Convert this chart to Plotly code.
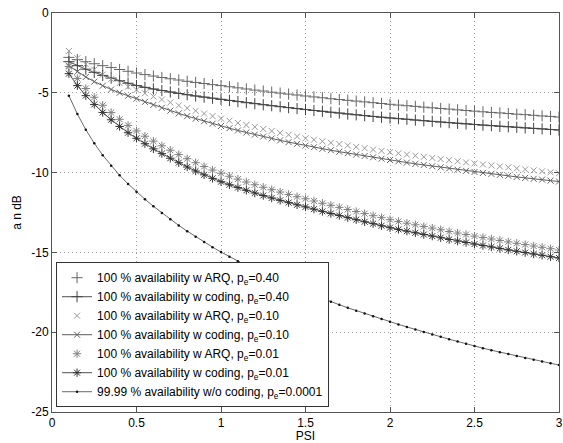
import plotly.graph_objects as go

psi = [round(0.1 + 0.05 * i, 2) for i in range(59)]

arq_040 = [-2.78, -2.92, -3.05, -3.18, -3.30, -3.42, -3.54, -3.65, -3.76,
           -3.86, -3.95, -4.04, -4.12, -4.20, -4.28, -4.35, -4.42, -4.49, -4.55,
           -4.62, -4.69, -4.76, -4.83, -4.89, -4.96, -5.02, -5.08, -5.14, -5.20,
           -5.26, -5.31, -5.37, -5.42, -5.47, -5.52, -5.57, -5.62, -5.67, -5.72,
           -5.77, -5.81, -5.85, -5.90, -5.94, -5.98, -6.02, -6.07, -6.11, -6.15,
           -6.19, -6.23, -6.26, -6.30, -6.34, -6.37, -6.41, -6.45, -6.48, -6.52]

cod_040 = [-3.05, -3.30, -3.52, -3.72, -3.91, -4.08, -4.24, -4.40, -4.55,
           -4.66, -4.76, -4.86, -4.95, -5.04, -5.12, -5.20, -5.27, -5.34, -5.41,
           -5.48, -5.55, -5.62, -5.68, -5.75, -5.81, -5.87, -5.93, -5.99, -6.05,
           -6.11, -6.16, -6.22, -6.27, -6.33, -6.38, -6.43, -6.48, -6.53, -6.58,
           -6.62, -6.66, -6.71, -6.75, -6.79, -6.83, -6.87, -6.91, -6.95, -6.99,
           -7.03, -7.06, -7.10, -7.13, -7.16, -7.20, -7.23, -7.26, -7.30, -7.33]

arq_010 = [-2.38, -2.83, -3.21, -3.55, -3.86, -4.14, -4.39, -4.62, -4.82,
           -5.03, -5.23, -5.42, -5.61, -5.79, -5.96, -6.13, -6.30, -6.46, -6.61,
           -6.75, -6.89, -7.02, -7.14, -7.27, -7.39, -7.51, -7.63, -7.74, -7.85,
           -7.94, -8.04, -8.13, -8.21, -8.30, -8.39, -8.47, -8.56, -8.64, -8.72,
           -8.79, -8.87, -8.94, -9.01, -9.08, -9.15, -9.22, -9.29, -9.36, -9.42,
           -9.49, -9.55, -9.61, -9.67, -9.74, -9.80, -9.86, -9.92, -9.98, -10.04]

cod_010 = [-3.30, -3.68, -4.01, -4.30, -4.56, -4.79, -5.00, -5.19, -5.37,
           -5.57, -5.76, -5.94, -6.12, -6.29, -6.46, -6.62, -6.78, -6.94, -7.08,
           -7.22, -7.36, -7.49, -7.62, -7.74, -7.86, -7.98, -8.09, -8.20, -8.31,
           -8.41, -8.51, -8.60, -8.69, -8.78, -8.87, -8.96, -9.04, -9.13, -9.21,
           -9.29, -9.37, -9.45, -9.52, -9.60, -9.67, -9.74, -9.82, -9.89, -9.96,
           -10.02, -10.08, -10.14, -10.20, -10.27, -10.33, -10.39, -10.44, -10.50, -10.56]

arq_001 = [-3.35, -4.10, -4.73, -5.28, -5.78, -6.24, -6.66, -7.04, -7.39,
           -7.72, -8.03, -8.32, -8.60, -8.87, -9.13, -9.38, -9.62, -9.84, -10.04,
           -10.23, -10.41, -10.59, -10.76, -10.92, -11.07, -11.22, -11.37, -11.51, -11.64,
           -11.78, -11.92, -12.05, -12.18, -12.31, -12.44, -12.57, -12.70, -12.82, -12.95,
           -13.06, -13.17, -13.27, -13.38, -13.48, -13.58, -13.69, -13.79, -13.88, -13.98,
           -14.07, -14.16, -14.25, -14.34, -14.43, -14.51, -14.60, -14.68, -14.77, -14.85]

cod_001 = [-3.80, -4.55, -5.18, -5.73, -6.23, -6.69, -7.11, -7.50, -7.85,
           -8.19, -8.51, -8.81, -9.10, -9.38, -9.65, -9.90, -10.14, -10.36, -10.57,
           -10.76, -10.94, -11.11, -11.28, -11.44, -11.59, -11.74, -11.88, -12.02, -12.15,
           -12.29, -12.43, -12.56, -12.69, -12.82, -12.95, -13.08, -13.20, -13.33, -13.45,
           -13.56, -13.67, -13.77, -13.88, -13.98, -14.08, -14.19, -14.29, -14.38, -14.48,
           -14.57, -14.66, -14.75, -14.84, -14.93, -15.01, -15.10, -15.18, -15.27, -15.35]

nocod_00001 = [-5.18, -6.33, -7.31, -8.16, -8.91, -9.57, -10.17, -10.71, -11.20,
               -11.67, -12.11, -12.53, -12.93, -13.31, -13.67, -14.02, -14.35, -14.67, -14.98,
               -15.27, -15.55, -15.82, -16.08, -16.33, -16.58, -16.82, -17.05, -17.27, -17.48,
               -17.69, -17.89, -18.09, -18.28, -18.47, -18.65, -18.83, -19.00, -19.17, -19.34,
               -19.51, -19.67, -19.83, -19.98, -20.14, -20.29, -20.44, -20.58, -20.73, -20.87,
               -21.00, -21.13, -21.25, -21.37, -21.49, -21.61, -21.73, -21.84, -21.95, -22.06]

labels = [
    "100 % availability w ARQ, p<sub>e</sub>=0.40",
    "100 % availability w coding, p<sub>e</sub>=0.40",
    "100 % availability w ARQ, p<sub>e</sub>=0.10",
    "100 % availability w coding, p<sub>e</sub>=0.10",
    "100 % availability w ARQ, p<sub>e</sub>=0.01",
    "100 % availability w coding, p<sub>e</sub>=0.01",
    "99.99 % availability w/o coding, p<sub>e</sub>=0.0001",
]

FONT = "Liberation Sans, Arial, sans-serif"
fig = go.Figure()

def add(y, name, mode, symbol, size, mcolor, lcolor=None):
    kw = dict(x=psi, y=y, name=name, mode=mode,
              marker=dict(symbol=symbol, size=size, color=mcolor,
                          line=dict(width=1, color=mcolor)))
    if lcolor:
        kw["line"] = dict(color=lcolor, width=0.8)
    fig.add_trace(go.Scatter(**kw))

add(arq_040, labels[0], "markers", "cross-thin", 8, "#666666")
add(cod_040, labels[1], "lines+markers", "cross-thin", 8, "#444444", "#222222")
add(arq_010, labels[2], "markers", "x-thin", 6, "#999999")
add(cod_010, labels[3], "lines+markers", "x-thin", 6, "#666666", "#333333")
add(arq_001, labels[4], "markers", "asterisk", 7, "#808080")
add(cod_001, labels[5], "lines+markers", "asterisk", 7, "#333333", "#222222")
fig.add_trace(go.Scatter(x=psi, y=nocod_00001, name=labels[6], mode="lines+markers",
                         line=dict(color="#444444", width=0.8),
                         marker=dict(symbol="circle", size=2.5, color="#111111")))

axis_common = dict(showline=True, linecolor="#555555", linewidth=1, mirror="ticks",
                   ticks="inside", ticklen=5, tickcolor="#555555",
                   showgrid=True, gridcolor="#a0a0a0", griddash="1px,3px", gridwidth=1,
                   zeroline=False, automargin=False,
                   tickfont=dict(family=FONT, size=12, color="black"))

fig.update_xaxes(range=[0, 3], tickvals=[0, 0.5, 1, 1.5, 2, 2.5, 3],
                 ticktext=["0", "0.5", "1", "1.5", "2", "2.5", "3"],
                 title=dict(text="PSI", standoff=0, font=dict(family=FONT, size=12)),
                 **axis_common)
fig.update_yaxes(range=[-25, 0], tickvals=[0, -5, -10, -15, -20, -25],
                 ticktext=["0", "-5", "-10", "-15", "-20", "-25"],
                 title=dict(text="a n dB", standoff=7, font=dict(family=FONT, size=12)),
                 **axis_common)

fig.update_layout(
    width=563, height=443,
    margin=dict(l=52, r=4, t=13, b=31, autoexpand=False),
    paper_bgcolor="white", plot_bgcolor="white",
    font=dict(family=FONT, size=12, color="black"),
    legend=dict(x=0.008, y=0.012, xanchor="left", yanchor="bottom",
                bordercolor="#333333", borderwidth=1, bgcolor="white",
                font=dict(family=FONT, size=12), tracegroupgap=0, itemwidth=30),
)

fig.write_html("out.html", config={"displayModeBar": False},
               post_script="document.body.style.margin='0';document.body.style.padding='0';")
